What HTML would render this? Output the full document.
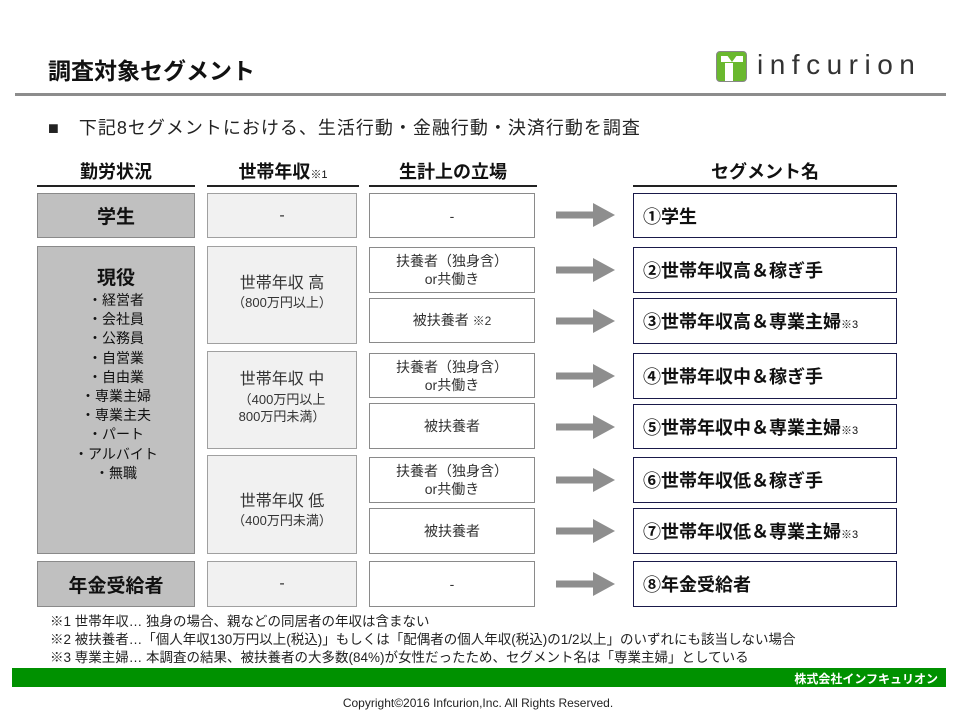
<!DOCTYPE html>
<html><head><meta charset="utf-8"><style>
*{margin:0;padding:0;box-sizing:border-box}
body{width:960px;height:720px;background:#fff;position:relative;overflow:hidden;font-family:"Liberation Sans","Noto Sans CJK JP",sans-serif;color:#222}
.a{position:absolute;white-space:nowrap}
.b{position:absolute;display:flex;flex-direction:column;align-items:center;justify-content:center;text-align:center;white-space:nowrap}
.c1{background:#c0c0c0;border:1px solid #8a8a8a;font-weight:bold;font-size:19px;color:#111}
.c2{background:#f1f1f1;border:1px solid #a0a0a0;font-size:16px;color:#333}
.c3{background:#fff;border:1px solid #8a8a8a;font-size:14px;color:#333;line-height:18px}
.c5{background:#fff;border:1.5px solid #1a1a4a;font-weight:bold;font-size:18px;color:#111;align-items:flex-start;padding-left:9px}
.hd{font-weight:bold;font-size:18px;text-align:center;color:#111}
.ul{height:2px;background:#222}
.sm{font-size:11px;font-weight:normal}
.ft{font-size:13.5px;color:#222;left:50px}
</style></head><body>
<div class="a" style="left:48px;top:52px;font-size:23px;font-weight:bold;color:#111">調査対象セグメント</div>
<div class="a" style="left:716px;top:51px;width:31px;height:31px;border:1px solid #888;border-radius:4px;background:#6ab82e"></div>
<div class="a" style="left:725px;top:63px;width:8px;height:18px;background:#fff"></div>
<div class="a" style="left:721px;top:56px;width:22px;height:6px;background:#fff;clip-path:polygon(0 0,30% 0,50% 100%,70% 0,100% 0,100% 100%,0 100%)"></div>
<div class="a" style="left:757px;top:49px;font-size:28px;letter-spacing:6.5px;color:#333">infcurion</div>
<div class="a" style="left:15px;top:93px;width:931px;height:3px;background:#8c8c8c"></div>
<div class="a" style="left:48px;top:114px;font-size:18px;letter-spacing:1px;color:#222">■　下記8セグメントにおける、生活行動・金融行動・決済行動を調査</div>

<div class="a hd" style="left:37px;top:158px;width:158px">勤労状況</div>
<div class="a hd" style="left:207px;top:158px;width:152px">世帯年収<span class="sm">※1</span></div>
<div class="a hd" style="left:369px;top:158px;width:168px">生計上の立場</div>
<div class="a hd" style="left:633px;top:158px;width:264px">セグメント名</div>
<div class="a ul" style="left:37px;top:185px;width:158px"></div>
<div class="a ul" style="left:207px;top:185px;width:152px"></div>
<div class="a ul" style="left:369px;top:185px;width:168px"></div>
<div class="a ul" style="left:633px;top:185px;width:264px"></div>

<div class="b c1" style="left:37px;top:193px;width:158px;height:45px">学生</div>
<div class="b c2" style="left:207px;top:193px;width:150px;height:45px">-</div>
<div class="b c3" style="left:369px;top:193px;width:166px;height:45px">-</div>

<div class="b c1" style="left:37px;top:246px;width:158px;height:308px;font-size:14px;font-weight:normal;line-height:19.2px;padding-bottom:50px"><span style="font-size:19px;font-weight:bold;line-height:24px">現役</span>・経営者<br>・会社員<br>・公務員<br>・自営業<br>・自由業<br>・専業主婦<br>・専業主夫<br>・パート<br>・アルバイト<br>・無職</div>
<div class="b c2" style="left:207px;top:246px;width:150px;height:98px;line-height:22px;padding-bottom:6px">世帯年収 高<span style="font-size:13px;line-height:16px">（800万円以上）</span></div>
<div class="b c2" style="left:207px;top:351px;width:150px;height:98px;line-height:22px;padding-bottom:6px">世帯年収 中<span style="font-size:13px;line-height:17px">（400万円以上<br>800万円未満）</span></div>
<div class="b c2" style="left:207px;top:455px;width:150px;height:99px;line-height:22px;padding-top:10px">世帯年収 低<span style="font-size:13px;line-height:16px">（400万円未満）</span></div>

<div class="b c3" style="left:369px;top:247px;width:166px;height:46px">扶養者（独身含）<br>or共働き</div>
<div class="b c3" style="left:369px;top:298px;width:166px;height:45px"><span>被扶養者 <span style="font-size:12px">※2</span></span></div>
<div class="b c3" style="left:369px;top:353px;width:166px;height:45px">扶養者（独身含）<br>or共働き</div>
<div class="b c3" style="left:369px;top:403px;width:166px;height:46px">被扶養者</div>
<div class="b c3" style="left:369px;top:457px;width:166px;height:46px">扶養者（独身含）<br>or共働き</div>
<div class="b c3" style="left:369px;top:508px;width:166px;height:46px">被扶養者</div>

<div class="b c1" style="left:37px;top:561px;width:158px;height:46px">年金受給者</div>
<div class="b c2" style="left:207px;top:561px;width:150px;height:46px">-</div>
<div class="b c3" style="left:369px;top:561px;width:166px;height:46px">-</div>

<svg class="a" style="left:0;top:0" width="960" height="720">
<defs><g id="ar"><rect x="556" y="-3.5" width="38" height="7" fill="#8e8e8e"/><polygon points="593,-12 615,0 593,12" fill="#8e8e8e"/></g></defs>
<use href="#ar" y="215"/><use href="#ar" y="270"/><use href="#ar" y="321"/><use href="#ar" y="376"/><use href="#ar" y="427"/><use href="#ar" y="480"/><use href="#ar" y="531"/><use href="#ar" y="584"/>
</svg>

<div class="b c5" style="left:633px;top:193px;width:264px;height:45px">①学生</div>
<div class="b c5" style="left:633px;top:247px;width:264px;height:46px">②世帯年収高＆稼ぎ手</div>
<div class="b c5" style="left:633px;top:298px;width:264px;height:46px"><span>③世帯年収高＆専業主婦<span class="sm">※3</span></span></div>
<div class="b c5" style="left:633px;top:353px;width:264px;height:46px">④世帯年収中＆稼ぎ手</div>
<div class="b c5" style="left:633px;top:404px;width:264px;height:45px"><span>⑤世帯年収中＆専業主婦<span class="sm">※3</span></span></div>
<div class="b c5" style="left:633px;top:457px;width:264px;height:46px">⑥世帯年収低＆稼ぎ手</div>
<div class="b c5" style="left:633px;top:508px;width:264px;height:46px"><span>⑦世帯年収低＆専業主婦<span class="sm">※3</span></span></div>
<div class="b c5" style="left:633px;top:561px;width:264px;height:46px">⑧年金受給者</div>

<div class="a ft" style="top:610px">※1 世帯年収… 独身の場合、親などの同居者の年収は含まない</div>
<div class="a ft" style="top:628px">※2 被扶養者…「個人年収130万円以上(税込)」もしくは「配偶者の個人年収(税込)の1/2以上」のいずれにも該当しない場合</div>
<div class="a ft" style="top:646px">※3 専業主婦… 本調査の結果、被扶養者の大多数(84%)が女性だったため、セグメント名は「専業主婦」としている</div>

<div class="a" style="left:12px;top:668px;width:934px;height:19px;background:#009100"></div>
<div class="a" style="left:600px;top:670px;width:338px;text-align:right;color:#fff;font-weight:bold;font-size:12px">株式会社インフキュリオン</div>
<div class="a" style="left:0;top:696px;width:956px;text-align:center;font-size:12px;color:#222">Copyright©2016 Infcurion,Inc. All Rights Reserved.</div>
</body></html>
